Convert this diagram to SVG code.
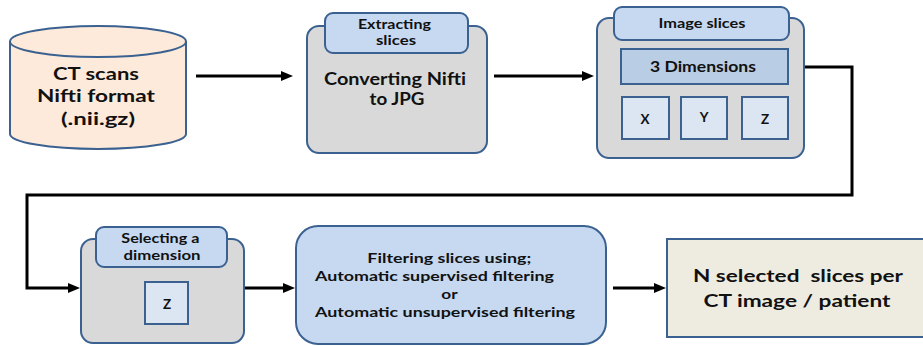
<svg xmlns="http://www.w3.org/2000/svg" width="923" height="346" viewBox="0 0 923 346">
<style>
  .bx{stroke:#3b6191;stroke-width:2}
  .grey{fill:#d9d9d9}
  .tab{fill:#c6d9f1}
  .dim{fill:#b9cde5}
  .sm{fill:#dce6f2}
  .t{font-family:Lato,"Open Sans","Liberation Sans",sans-serif;font-weight:bold;fill:#111;text-anchor:middle}
  .l{text-anchor:start}
  .c{fill:none;stroke:#000;stroke-width:3}
</style>
<defs>
  <marker id="ah" markerUnits="userSpaceOnUse" markerWidth="12" markerHeight="10" refX="2" refY="5" orient="auto">
    <path d="M0,0 L12,5 L0,10 Z" fill="#000"/>
  </marker>
</defs>
<rect width="923" height="346" fill="#fff"/>

<g id="ct-scans">
  <path class="bx" fill="#fdeada" d="M10,41.5 A88,15.5 0 0 1 186,41.5 V134 A88,15 0 0 1 10,134 Z"/>
  <path class="bx" fill="none" d="M10,41.5 A88,15.5 0 0 0 186,41.5"/>
  <text class="t" font-size="16.5">
    <tspan x="98" y="80" textLength="86" lengthAdjust="spacingAndGlyphs">CT scans</tspan>
    <tspan x="98" y="102" textLength="118" lengthAdjust="spacingAndGlyphs">Nifti format</tspan>
    <tspan x="98" y="125" textLength="74" lengthAdjust="spacingAndGlyphs">(.nii.gz)</tspan>
  </text>
</g>

<g id="converting">
  <rect class="bx grey" x="307" y="26" width="180" height="127" rx="12"/>
  <rect class="bx tab" x="325" y="13" width="143" height="40" rx="8"/>
  <text class="t" font-size="13">
    <tspan x="396" y="29" textLength="73" lengthAdjust="spacingAndGlyphs">Extracting</tspan>
    <tspan x="396" y="45" textLength="40" lengthAdjust="spacingAndGlyphs">slices</tspan>
  </text>
  <text class="t" font-size="16.5">
    <tspan x="397" y="85" textLength="142" lengthAdjust="spacingAndGlyphs">Converting Nifti</tspan>
    <tspan x="397" y="105" textLength="55" lengthAdjust="spacingAndGlyphs">to JPG</tspan>
  </text>
</g>

<g id="image-slices">
  <rect class="bx grey" x="597" y="18" width="207" height="140" rx="12"/>
  <rect class="bx tab" x="614" y="7" width="175" height="33" rx="8"/>
  <text class="t" font-size="13.5" x="702" y="28" textLength="87" lengthAdjust="spacingAndGlyphs">Image slices</text>
  <rect class="bx dim" x="621" y="49" width="167" height="35"/>
  <text class="t" font-size="15" x="703" y="72" textLength="106" lengthAdjust="spacingAndGlyphs">3 Dimensions</text>
  <rect class="bx sm" x="622" y="97" width="47" height="42"/>
  <text class="t" font-size="13.5" x="645" y="124">X</text>
  <rect class="bx sm" x="681" y="97" width="46" height="42"/>
  <text class="t" font-size="13.5" x="704" y="122">Y</text>
  <rect class="bx sm" x="742" y="97" width="46" height="42"/>
  <text class="t" font-size="13.5" x="765" y="124">Z</text>
</g>

<g id="selecting">
  <rect class="bx grey" x="81" y="239" width="163" height="104" rx="12"/>
  <rect class="bx tab" x="96" y="227" width="131" height="40" rx="8"/>
  <text class="t" font-size="13.5">
    <tspan x="162" y="243" textLength="78" lengthAdjust="spacingAndGlyphs">Selecting a</tspan>
    <tspan x="162" y="260" textLength="77" lengthAdjust="spacingAndGlyphs">dimension</tspan>
  </text>
  <rect class="bx sm" x="145" y="282" width="43" height="42"/>
  <text class="t" font-size="13.5" x="167" y="309">Z</text>
</g>

<g id="filtering">
  <rect class="bx tab" x="296" y="226" width="310" height="118" rx="22"/>
  <text class="t" font-size="13.5">
    <tspan x="451" y="263" textLength="164" lengthAdjust="spacingAndGlyphs">Filtering slices using;</tspan>
    <tspan class="l" x="315" y="281" textLength="239" lengthAdjust="spacingAndGlyphs">Automatic supervised filtering</tspan>
    <tspan x="451" y="299" textLength="16" lengthAdjust="spacingAndGlyphs">or</tspan>
    <tspan class="l" x="315" y="317" textLength="260" lengthAdjust="spacingAndGlyphs">Automatic unsupervised filtering</tspan>
  </text>
</g>

<g id="selected">
  <rect class="bx" fill="#eeece1" x="667" y="239" width="270" height="98"/>
  <text class="t" font-size="16.5" xml:space="preserve"><tspan x="798" y="282" textLength="210" lengthAdjust="spacingAndGlyphs">N selected  slices per</tspan><tspan x="797" y="307" textLength="187" lengthAdjust="spacingAndGlyphs">CT image / patient</tspan></text>
</g>

<g id="connectors">
  <path class="c" d="M196,76 H283" marker-end="url(#ah)"/>
  <path class="c" d="M494,76 H584" marker-end="url(#ah)"/>
  <path class="c" stroke-width="3.5" d="M805,67 H852 V195 H27 V288 H70" marker-end="url(#ah)"/>
  <path class="c" d="M245,288 H285" marker-end="url(#ah)"/>
  <path class="c" d="M613,288 H656" marker-end="url(#ah)"/>
</g>
</svg>
